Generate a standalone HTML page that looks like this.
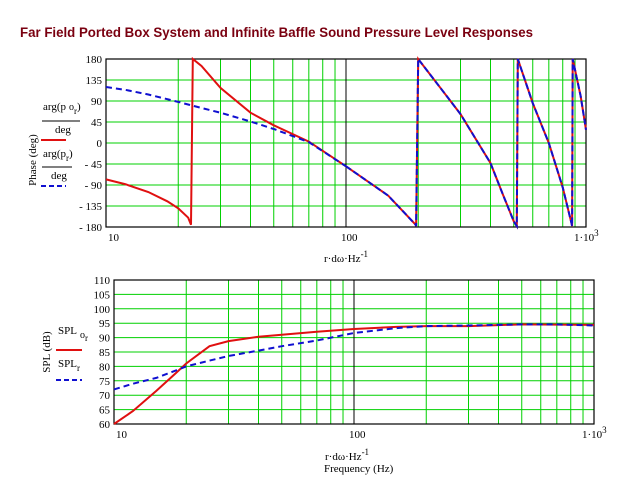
<!DOCTYPE html>
<html><head><meta charset="utf-8"><style>
body{margin:0;background:#fff;}
svg{display:block;font-family:"Liberation Serif",serif;}
</style></head><body>
<svg id="c" width="629" height="477" viewBox="0 0 629 477">
<text x="20" y="37" font-family="Liberation Sans" font-weight="bold" font-size="14" fill="#7a0010" textLength="513" lengthAdjust="spacingAndGlyphs">Far Field Ported Box System and Infinite Baffle Sound Pressure Level Responses</text>
<g id="gtop"></g>
<g id="gbot"></g>
</svg>
<script>
const phaseFreq=[10,12,15,18,20,22,22.6,23,25,30,40,50,70,100,150,195,196,200,250,300,400,450,500,515,520,600,700,800,870,875,880,950,1000];
const phaseRed=[-78,-88,-105,-125,-140,-160,-175,180,165,118,65,38,3,-50,-113,-175,-178,180,115,62,-43,-110,-168,-178,180,85,0,-95,-172,-178,180,100,28];
const phaseBlueFreq=[10,12,15,20,25,30,40,50,70,100];
const phaseBlue=[120,114,104,88,75,65,46,30,2,-50];
const splFreq=[10,12,15,18,20,25,30,40,50,70,100,150,200,300,500,700,1000];
const splRed=[60,64.5,71.5,77.5,81,87,88.8,90.3,91,92,93,93.7,94,94,94.6,94.5,94.4];
const splBlue=[72,74,76,78.5,80,82,83.6,85.5,87,89,91.6,93.3,94,94.2,94.6,94.6,94.2];
const phaseTicks=[180,135,90,45,0,-45,-90,-135,-180];
const splTicks=[110,105,100,95,90,85,80,75,70,65,60];
const NS="http://www.w3.org/2000/svg";
function mk(p,t,a){const e=document.createElementNS(NS,t);for(const k in a)e.setAttribute(k,a[k]);p.appendChild(e);return e;}
function plot(g,L,T,R,B,ymin,ymax,ticks){
 const X=f=>L+(Math.log10(f)-1)/2*(R-L);
 const Y=v=>B-(v-ymin)/(ymax-ymin)*(B-T);
 for(const d of [1,10]) for(let m=2;m<=9;m++){const l=mk(g,'line',{x1:X(m*10*d),x2:X(m*10*d),y1:T,y2:B,stroke:'#00d000','stroke-width':1});
  
  }
 for(const v of ticks){const l=mk(g,'line',{x1:L,x2:R,y1:Y(v),y2:Y(v),stroke:'#00d000','stroke-width':1});
  
  
  const t=mk(g,'text',{x:L-4,y:Y(v)+4,'text-anchor':'end','font-size':11});t.textContent=String(v).replace('-','- ');
  
  }
 const c=mk(g,'line',{x1:X(100),x2:X(100),y1:T,y2:B,stroke:'#000'});
 
 
 const r=mk(g,'rect',{x:L,y:T,width:R-L,height:B-T,fill:'none',stroke:'#000','stroke-width':1.2});
 
 
 const t1=mk(g,'text',{x:L+2,y:B+14,'font-size':11});t1.textContent='10';
 
 
 const t2=mk(g,'text',{x:X(100)-5,y:B+14,'font-size':11});t2.textContent='100';
 
 
 const t3=mk(g,'text',{x:R-12,y:B+14,'font-size':11});t3.innerHTML='1·10<tspan dy="-5" font-size="9">3</tspan>';
 
 
 return {X,Y};
}
function line(g,ax,fs,vs,col,dash,name){
 const pts=fs.map((f,i)=>ax.X(f).toFixed(1)+','+ax.Y(vs[i]).toFixed(1)).join(' ');
 const p=mk(g,'polyline',{points:pts,fill:'none',stroke:col,'stroke-width':2,'stroke-dasharray':dash||'none'});
 
 
}
const gTop=document.getElementById('gtop'),gBot=document.getElementById('gbot');
const a1=plot(gTop,106,59,586,227,-180,180,phaseTicks);
line(gTop,a1,phaseFreq,phaseRed,'#e01010',null,'ported-phase-line');
line(gTop,a1,phaseBlueFreq,phaseBlue,'#1010d0','6,4','baffle-phase-line');
line(gTop,a1,phaseFreq.slice(13),phaseRed.slice(13),'#1010d0','6,3','baffle-phase-line-high');
const a2=plot(gBot,114,280,594,424,60,110,splTicks);
line(gBot,a2,splFreq,splRed,'#e01010',null,'ported-spl-line');
line(gBot,a2,splFreq,splBlue,'#1010d0','6,4','baffle-spl-line');
</script>
<svg style="position:absolute;left:0;top:0" width="629" height="477" font-family="Liberation Serif" font-size="11">
<text transform="translate(36,160) rotate(-90)" text-anchor="middle">Phase (deg)</text>
<text x="43" y="110">arg(p<tspan dx="3" font-size="10">o</tspan><tspan font-size="9" dy="4">r</tspan><tspan dy="-4">)</tspan></text>
<line x1="42" y1="121" x2="80" y2="121" stroke="#000"/>
<text x="55" y="133">deg</text>
<line x1="41" y1="140" x2="66" y2="140" stroke="#e01010" stroke-width="2"/>
<text x="43" y="157">arg(p<tspan font-size="9" dy="4">r</tspan><tspan dy="-4">)</tspan></text>
<line x1="42" y1="167" x2="72" y2="167" stroke="#000"/>
<text x="51" y="179">deg</text>
<line x1="41" y1="186" x2="66" y2="186" stroke="#1010d0" stroke-width="2" stroke-dasharray="5,3"/>
<text x="324" y="262">r·dω·Hz<tspan dy="-5" font-size="9">-1</tspan></text>
<text transform="translate(50,352) rotate(-90)" text-anchor="middle">SPL (dB)</text>
<text x="58" y="334">SPL<tspan dx="3" font-size="10" dy="4">o</tspan><tspan font-size="9" dy="3">r</tspan></text>
<line x1="56" y1="350" x2="82" y2="350" stroke="#e01010" stroke-width="2"/>
<text x="58" y="367">SPL<tspan font-size="9" dy="4">r</tspan></text>
<line x1="56" y1="380" x2="82" y2="380" stroke="#1010d0" stroke-width="2" stroke-dasharray="5,3"/>
<text x="325" y="460">r·dω·Hz<tspan dy="-5" font-size="9">-1</tspan></text>
<text x="324" y="472">Frequency (Hz)</text>
</svg>
</body></html>
